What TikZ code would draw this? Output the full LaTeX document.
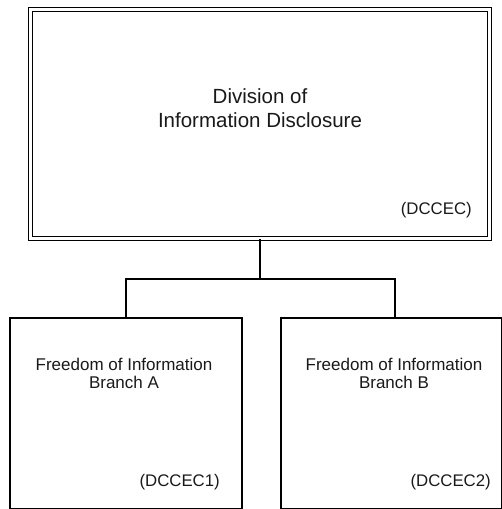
\documentclass[tikz,border=0pt]{standalone}
\usepackage{fontspec}
\setmainfont{Liberation Sans}
\begin{document}
\begin{tikzpicture}[x=1pt,y=-1pt,
  box/.style={draw=black, line width=1.6pt, rectangle, inner sep=0pt, anchor=north west},
  dbox/.style={draw=black, double=white, line width=1.3pt, double distance=2.7pt, rectangle, inner sep=0pt, anchor=north west},
  conn/.style={draw=black, line width=1.6pt},
  title/.style={font=\fontsize{20.5}{24}\selectfont, anchor=base, text=black!90, inner sep=0pt},
  sub/.style={font=\fontsize{17}{20}\selectfont, anchor=base, text=black!90, inner sep=0pt},
  code/.style={font=\fontsize{16.8}{20}\selectfont, anchor=base east, text=black!90, inner sep=0pt}]
\useasboundingbox (0,0) rectangle (502,509);
\node[dbox, minimum width=459pt, minimum height=228.5pt] (top) at (30,9) {};
\node[box, minimum width=232pt, minimum height=191pt] (left) at (9,317) {};
\node[box, minimum width=221pt, minimum height=191pt] (right) at (280,317) {};
\node[title] (t1) at (260,103) {Division of};
\node[title] (t2) at (260,127.5) {Information Disclosure};
\node[code] (c0) at (472,214) {(DCCEC)};
\node[sub] (l1) at (124,370) {Freedom of Information};
\node[sub] (l2) at (124,388) {Branch A};
\node[code] (c1) at (220,486) {(DCCEC1)};
\node[sub] (r1) at (394,370) {Freedom of Information};
\node[sub] (r2) at (394,388) {Branch B};
\node[code] (c2) at (491,486) {(DCCEC2)};
\coordinate (bus) at (top.south |- 0,279);
\coordinate (rt) at (395,317);
\draw[conn] (top.south) -- (bus);
\draw[conn] (left.north) |- (bus) -| (rt);
\end{tikzpicture}
\end{document}
